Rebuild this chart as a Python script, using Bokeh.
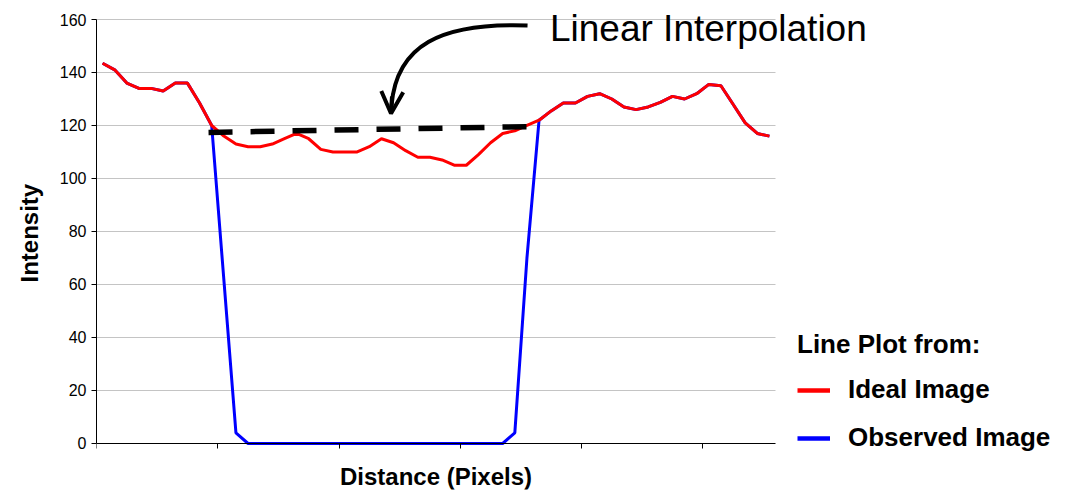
from bokeh.plotting import figure
from bokeh.models import (Range1d, FixedTicker, Legend, LegendItem, Label, Arrow, OpenHead, Title)
from bokeh.embed import file_html
from bokeh.resources import INLINE

# ---- data ----
ideal = [143.5, 141, 136, 134, 134, 133, 136, 136, 128.5, 120,
         116, 113, 112, 112, 113, 115, 117, 115, 111, 110,
         110, 110, 112, 115, 113.5, 110.5, 108, 108, 107, 105,
         105, 109, 113.5, 117, 118, 120, 122, 125.5, 128.5, 128.5,
         131, 132, 130, 127, 126, 127, 128.7, 131, 130, 132,
         135.5, 135, 128, 121, 117, 116]
observed = (ideal[:10] + [62, 4] + [0] * 22 + [4, 70] + ideal[36:])
n_cat = len(ideal)
x_idx = [i + 0.5 for i in range(n_cat)]

interp_x = [9.24, 35.79]
interp_y = [117.4, 119.6]

y_ticks = [0, 20, 40, 60, 80, 100, 120, 140, 160]
grid_ticks = [20, 40, 60, 80, 100, 120, 140, 160]
x_ticks = [0, 10, 20, 30, 40, 50]

# annotation anchors (data units)
arrow_curve = dict(x0=35.55, y0=157.7, cx0=28.37, cy0=158.9, cx1=24.74, cy1=150.2, x1=24.33, y1=127.5)
arrow_head = dict(xs=24.37, ys=131.0, xe=24.29, ye=124.5)
annot_text = "Linear Interpolation"
annot_pos = (37.4, 156.6)
xlabel_text = "Distance (Pixels)"
xlabel_pos = (28.0, -12.6)
ylabel_text = "Intensity"

FONT = "Liberation Sans"
NAN = float("nan")

p = figure(frame_width=970, frame_height=489,
           min_border_left=96, min_border_right=4, min_border_top=0, min_border_bottom=5,
           x_range=Range1d(0, 80), y_range=Range1d(-17.36, 167.17),
           output_backend="svg", toolbar_location=None)
p.outline_line_color = None
p.background_fill_color = "white"
p.xgrid.grid_line_color = None
p.ygrid.grid_line_color = None

# horizontal gridlines over the category span
p.segment(x0=[0] * len(grid_ticks), x1=[n_cat] * len(grid_ticks), y0=grid_ticks, y1=grid_ticks,
          line_color="#c4c4c4", line_width=1)

# axes
p.yaxis.ticker = FixedTicker(ticks=y_ticks)
p.xaxis.ticker = FixedTicker(ticks=x_ticks)
p.yaxis.bounds = (0, 160)
p.xaxis.bounds = (0, n_cat)
p.xaxis.fixed_location = 0
for ax in (p.xaxis[0], p.yaxis[0]):
    ax.axis_line_color = "black"
    ax.axis_line_width = 1
    ax.major_tick_line_color = "black"
    ax.major_tick_out = 5
    ax.major_tick_in = 0
    ax.minor_tick_line_color = None
p.yaxis.major_label_text_font = FONT
p.yaxis.major_label_text_font_size = "16px"
p.yaxis.major_label_text_color = "black"
p.yaxis.major_label_standoff = 5
p.xaxis.major_label_overrides = {t: "" for t in x_ticks}
p.xaxis.major_label_standoff = 0

# y axis title, placed along the axis span
p.add_layout(Title(text=ylabel_text, align="left", offset=207, standoff=27,
                   text_font=FONT, text_font_size="24px", text_font_style="bold",
                   text_color="black"), "left")

# series
r_obs = p.line(x_idx, observed, line_color="#0000ff", line_width=3)
r_ideal = p.line(x_idx, ideal, line_color="#ff0000", line_width=3)
# legend swatches (slightly thicker, as in the original legend)
leg_ideal = p.line(x=[NAN], y=[NAN], line_color="#ff0000", line_width=4.5)
leg_obs = p.line(x=[NAN], y=[NAN], line_color="#0000ff", line_width=4.5)

# linear interpolation dashed line
p.line(interp_x, interp_y, line_color="black", line_width=5.5, line_dash="24 18")

# curved arrow
p.bezier(x0=[arrow_curve["x0"]], y0=[arrow_curve["y0"]],
         cx0=[arrow_curve["cx0"]], cy0=[arrow_curve["cy0"]],
         cx1=[arrow_curve["cx1"]], cy1=[arrow_curve["cy1"]],
         x1=[arrow_curve["x1"]], y1=[arrow_curve["y1"]],
         line_color="black", line_width=4)
p.add_layout(Arrow(end=OpenHead(size=22, line_width=4, line_color="black"),
                   x_start=arrow_head["xs"], y_start=arrow_head["ys"],
                   x_end=arrow_head["xe"], y_end=arrow_head["ye"],
                   line_color="black", line_width=4))

p.add_layout(Label(x=annot_pos[0], y=annot_pos[1], text=annot_text,
                   text_font=FONT, text_font_size="37px", text_color="black",
                   text_baseline="middle", text_align="left"))
p.add_layout(Label(x=xlabel_pos[0], y=xlabel_pos[1], text=xlabel_text,
                   text_font=FONT, text_font_size="24px", text_font_style="bold",
                   text_color="black", text_baseline="middle", text_align="center"))

legend = Legend(items=[LegendItem(label="Ideal Image", renderers=[leg_ideal]),
                       LegendItem(label="Observed Image", renderers=[leg_obs])],
                location=(701, 36), title="Line Plot from:")
legend.title_text_font = FONT
legend.title_text_font_style = "bold"
legend.title_text_font_size = "26px"
legend.title_text_color = "black"
legend.title_standoff = 14
legend.label_text_font = FONT
legend.label_text_font_style = "bold"
legend.label_text_font_size = "26px"
legend.label_text_color = "black"
legend.glyph_width = 33
legend.glyph_height = 26
legend.label_height = 26
legend.label_standoff = 18
legend.spacing = 17
legend.padding = 0
legend.margin = 0
legend.border_line_color = None
legend.background_fill_alpha = 0
p.add_layout(legend, "center")

open("out.html", "w").write(file_html(p, INLINE))
